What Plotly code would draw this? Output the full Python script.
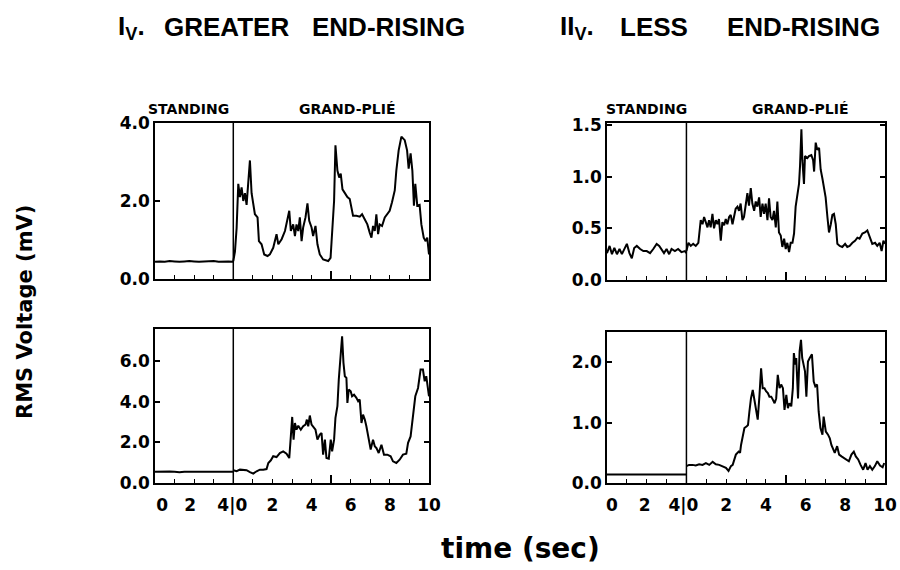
import plotly.graph_objects as go

# ---------------- data (time in s, RMS voltage in mV) ----------------
# Panel I_V top (greater end-rising, upper trace)
tl_stand_t = [0, 0.25, 0.5, 0.75, 1.0, 1.25, 1.5, 1.75, 2.0, 2.25, 2.5, 2.75, 3.0, 3.25, 3.5, 3.75, 4.0]
tl_stand_v = [0.44, 0.45, 0.44, 0.46, 0.45, 0.44, 0.45, 0.46, 0.45, 0.44, 0.45, 0.45, 0.46, 0.44, 0.45, 0.45, 0.44]
tl_grand_t = [0.0, 0.085, 0.17, 0.255, 0.34, 0.425, 0.51, 0.595, 0.68, 0.765, 0.85, 0.935, 1.02, 1.105, 1.24,
              1.31, 1.445, 1.58, 1.75, 1.87, 2.04, 2.21, 2.30, 2.47, 2.64, 2.77, 2.86, 2.94, 3.06, 3.15, 3.23,
              3.32, 3.40, 3.49, 3.57, 3.69, 3.79, 3.88, 4.0, 4.08, 4.2, 4.3, 4.42, 4.59, 4.85, 4.97, 5.05, 5.15,
              5.22, 5.32, 5.41, 5.49, 5.58, 5.70, 5.83, 5.95, 6.04, 6.12, 6.29, 6.46, 6.58, 6.72, 6.85, 6.97,
              7.06, 7.14, 7.23, 7.31, 7.40, 7.48, 7.60, 7.74, 7.87, 7.99, 8.11, 8.25, 8.33, 8.45, 8.59, 8.76,
              8.88, 8.96, 9.06, 9.15, 9.23, 9.30, 9.40, 9.52, 9.61, 9.73, 9.83, 9.91, 10.0]
tl_grand_v = [0.46, 0.7, 1.3, 2.44, 2.1, 2.35, 2.0, 2.2, 1.9, 2.44, 3.04, 2.2, 1.9, 1.66, 1.58,
              0.97, 0.89, 0.63, 0.59, 0.63, 0.8, 1.15, 0.89, 1.02, 1.23, 1.58, 1.75, 1.23, 1.4, 1.1, 1.4,
              1.23, 1.58, 0.97, 1.32, 1.58, 1.94, 1.49, 1.32, 1.1, 1.36, 0.89, 0.63, 0.5, 0.46, 0.54, 1.15, 2.0,
              3.43, 2.78, 2.6, 2.7, 2.3, 2.2, 2.1, 2.05, 1.84, 1.62, 1.62, 1.6, 1.66, 1.53, 1.4, 1.19,
              1.06, 1.36, 1.23, 1.66, 1.15, 1.4, 1.36, 1.58, 1.66, 1.75, 1.97, 2.27, 2.78, 3.3, 3.65, 3.56,
              3.3, 2.83, 3.22, 2.78, 1.88, 2.44, 1.88, 1.9, 1.4, 1.06, 0.97, 1.06, 0.63]

# Panel I_V bottom
bl_stand_t = [0, 0.25, 0.5, 0.75, 1.0, 1.25, 1.5, 1.75, 2.0, 2.25, 2.5, 2.75, 3.0, 3.25, 3.5, 3.75, 4.0]
bl_stand_v = [0.55, 0.56, 0.55, 0.57, 0.55, 0.53, 0.56, 0.57, 0.56, 0.55, 0.57, 0.56, 0.55, 0.57, 0.56, 0.55, 0.56]
bl_grand_t = [0, 0.17, 0.34, 0.51, 0.68, 0.85, 1.02, 1.19, 1.36, 1.53, 1.70, 1.79, 1.92, 2.04, 2.21, 2.38,
              2.55, 2.72, 2.86, 2.94, 3.01, 3.08, 3.15, 3.23, 3.32, 3.45, 3.57, 3.69, 3.76, 3.83, 3.91, 4.00,
              4.08, 4.20, 4.30, 4.42, 4.51, 4.59, 4.68, 4.76, 4.88, 4.98, 5.05, 5.15, 5.22, 5.32, 5.39, 5.46,
              5.56, 5.63, 5.70, 5.78, 5.83, 5.90, 6.00, 6.07, 6.17, 6.29, 6.38, 6.46, 6.55, 6.63, 6.72, 6.80,
              6.89, 7.02, 7.14, 7.23, 7.31, 7.43, 7.57, 7.70, 7.87, 8.04, 8.16, 8.33, 8.50, 8.67, 8.84, 8.93,
              9.06, 9.18, 9.30, 9.44, 9.57, 9.69, 9.78, 9.86, 9.95, 10.0]
bl_grand_v = [0.63, 0.58, 0.66, 0.63, 0.63, 0.54, 0.46, 0.58, 0.66, 0.66, 0.69, 0.99, 1.12, 1.32, 1.28, 1.48,
              1.56, 1.45, 1.23, 2.3, 3.26, 2.14, 2.96, 2.63, 2.83, 2.63, 2.80, 2.88, 3.13, 2.80, 3.33, 2.88,
              2.80, 2.63, 2.14, 2.39, 2.47, 1.40, 2.14, 1.23, 1.20, 2.14, 1.56, 2.14, 3.21, 3.79, 5.10, 5.93,
              7.24, 5.93, 5.27, 5.19, 3.95, 4.61, 4.53, 4.28, 4.36, 4.20, 4.03, 4.12, 2.96, 3.37, 3.13, 2.80,
              2.30, 1.65, 2.14, 1.81, 1.73, 1.48, 1.89, 1.40, 1.40, 1.32, 1.07, 0.99, 1.15, 1.40, 1.45, 1.98,
              2.30, 3.29, 4.28, 4.69, 5.60, 5.60, 5.02, 5.27, 4.44, 4.28]

# Panel II_V top (less end-rising)
tr_stand_t = [0, 0.13, 0.25, 0.37, 0.5, 0.63, 0.75, 0.87, 1.0, 1.13, 1.25, 1.37, 1.5, 1.67, 1.83, 2.0, 2.17,
              2.33, 2.5, 2.63, 2.75, 2.87, 3.0, 3.13, 3.25, 3.42, 3.58, 3.75, 3.92, 4.0]
tr_stand_v = [0.26, 0.33, 0.25, 0.31, 0.25, 0.30, 0.25, 0.30, 0.35, 0.26, 0.21, 0.31, 0.33, 0.30, 0.28, 0.28,
              0.26, 0.30, 0.35, 0.33, 0.30, 0.26, 0.30, 0.25, 0.30, 0.28, 0.30, 0.27, 0.28, 0.26]
tr_grand_t = [0, 0.10, 0.22, 0.34, 0.47, 0.60, 0.72, 0.81, 0.89, 0.97, 1.06, 1.14, 1.22, 1.31, 1.39, 1.48,
              1.56, 1.64, 1.73, 1.81, 1.90, 1.98, 2.06, 2.15, 2.23, 2.32, 2.40, 2.48, 2.57, 2.65, 2.73, 2.82,
              2.90, 2.99, 3.07, 3.15, 3.24, 3.32, 3.41, 3.49, 3.57, 3.66, 3.74, 3.83, 3.91, 3.99, 4.08, 4.16,
              4.24, 4.33, 4.41, 4.50, 4.58, 4.66, 4.75, 4.83, 4.92, 5.00, 5.08, 5.17, 5.25, 5.34, 5.42, 5.50,
              5.59, 5.67, 5.72, 5.79, 5.84, 5.92, 5.97, 6.09, 6.17, 6.29, 6.38, 6.43, 6.51, 6.59, 6.68, 6.76,
              6.85, 6.93, 7.01, 7.10, 7.18, 7.27, 7.35, 7.43, 7.52, 7.60, 7.72, 7.85, 7.99, 8.10, 8.22, 8.36,
              8.49, 8.61, 8.72, 8.86, 8.99, 9.11, 9.23, 9.36, 9.50, 9.61, 9.73, 9.83, 9.92, 10.0]
tr_grand_v = [0.28, 0.36, 0.33, 0.35, 0.33, 0.36, 0.58, 0.54, 0.61, 0.56, 0.51, 0.58, 0.51, 0.64, 0.50, 0.58,
              0.54, 0.59, 0.38, 0.56, 0.53, 0.59, 0.54, 0.61, 0.63, 0.54, 0.63, 0.69, 0.71, 0.67, 0.74, 0.58,
              0.61, 0.71, 0.84, 0.72, 0.89, 0.74, 0.67, 0.76, 0.71, 0.80, 0.61, 0.74, 0.64, 0.74, 0.58, 0.79,
              0.61, 0.58, 0.67, 0.51, 0.76, 0.46, 0.43, 0.32, 0.40, 0.30, 0.36, 0.27, 0.36, 0.36, 0.45, 0.71,
              0.84, 0.93, 1.10, 1.46, 1.16, 0.93, 1.20, 1.18, 1.20, 1.21, 1.16, 1.05, 1.33, 1.26, 1.28, 1.07,
              0.98, 0.89, 0.80, 0.61, 0.46, 0.54, 0.63, 0.64, 0.54, 0.35, 0.33, 0.32, 0.35, 0.32, 0.33, 0.36,
              0.38, 0.41, 0.40, 0.45, 0.46, 0.48, 0.41, 0.35, 0.36, 0.33, 0.36, 0.28, 0.38, 0.35]

# Panel II_V bottom
br_stand_t = [0, 0.5, 1.0, 1.5, 2.0, 2.5, 3.0, 3.5, 4.0]
br_stand_v = [0.14, 0.14, 0.14, 0.14, 0.14, 0.14, 0.14, 0.14, 0.14]
br_grand_t = [0, 0.13, 0.30, 0.47, 0.64, 0.81, 0.98, 1.15, 1.32, 1.48, 1.65, 1.82, 1.99, 2.12, 2.24, 2.33,
              2.41, 2.49, 2.63, 2.70, 2.75, 2.83, 2.92, 3.04, 3.10, 3.17, 3.25, 3.34, 3.42, 3.51, 3.59, 3.68,
              3.76, 3.84, 3.93, 4.01, 4.10, 4.18, 4.27, 4.35, 4.44, 4.52, 4.60, 4.69, 4.77, 4.86, 4.94, 5.03,
              5.11, 5.19, 5.28, 5.36, 5.41, 5.48, 5.53, 5.62, 5.70, 5.77, 5.83, 5.90, 5.97, 6.04, 6.12, 6.21,
              6.32, 6.41, 6.49, 6.58, 6.66, 6.75, 6.85, 6.91, 7.02, 7.13, 7.22, 7.30, 7.39, 7.47, 7.59, 7.69,
              7.81, 7.93, 8.06, 8.18, 8.31, 8.43, 8.53, 8.65, 8.77, 8.90, 9.02, 9.12, 9.24, 9.36, 9.49, 9.61,
              9.75, 9.88, 9.96]
br_grand_v = [0.28, 0.30, 0.30, 0.29, 0.31, 0.30, 0.33, 0.30, 0.35, 0.31, 0.30, 0.28, 0.25, 0.20, 0.28, 0.30,
              0.39, 0.47, 0.52, 0.50, 0.63, 0.74, 0.91, 0.94, 0.96, 1.18, 1.40, 1.54, 1.40, 1.18, 1.05, 1.46,
              1.90, 1.57, 1.57, 1.52, 1.49, 1.43, 1.43, 1.38, 1.32, 1.40, 1.79, 1.57, 1.63, 1.57, 1.21, 1.46,
              1.24, 1.32, 1.27, 1.57, 2.15, 1.96, 2.07, 1.40, 2.18, 2.37, 2.07, 1.96, 1.85, 1.43, 2.01, 2.07,
              2.13, 1.68, 1.60, 1.63, 1.18, 0.91, 0.80, 1.10, 0.85, 0.80, 0.74, 0.63, 0.55, 0.50, 0.61, 0.47,
              0.44, 0.41, 0.39, 0.36, 0.47, 0.52, 0.44, 0.39, 0.30, 0.22, 0.33, 0.22, 0.28, 0.22, 0.28, 0.36,
              0.29, 0.26, 0.33]

# axis settings / labels
STAND_LEN = 4  # standing section occupies 0..4 s, grand-plié shown after it
tl_yticks = [0, 2, 4]
bl_yticks = [0, 2, 4, 6]
tr_yticks = [0, 0.5, 1.0, 1.5]
br_yticks = [0, 1, 2]
xlabel_text = ["0", "2", "4|0", "2", "4", "6", "8", "10"]
left_xlabel_pos = [0.36, 1.8, 3.95, 6, 8, 10, 12, 14]
right_xlabel_pos = [0.25, 1.9, 3.85, 6, 8, 10, 12, 14]

# ---------------- figure ----------------
W, H = 900, 570
FONT = "DejaVu Sans"


def px_x(a):
    return a / W


def px_y(a):
    return 1 - a / H


def dom_x(a, b):
    return [px_x(a), px_x(b)]


def dom_y(top, bottom):
    return [px_y(bottom), px_y(top)]


panels = [
    ("x", "y", dom_x(155, 429), dom_y(123, 279), [0, 4.0], tl_yticks,
     (tl_stand_t, tl_stand_v), (tl_grand_t, tl_grand_v)),
    ("x2", "y2", dom_x(607, 885), dom_y(123, 280), [0, 1.52], tr_yticks,
     (tr_stand_t, tr_stand_v), (tr_grand_t, tr_grand_v)),
    ("x3", "y3", dom_x(155, 429), dom_y(329, 483), [0, 7.6], bl_yticks,
     (bl_stand_t, bl_stand_v), (bl_grand_t, bl_grand_v)),
    ("x4", "y4", dom_x(607, 885), dom_y(332, 483), [0, 2.5], br_yticks,
     (br_stand_t, br_stand_v), (br_grand_t, br_grand_v)),
]

fig = go.Figure()
line = dict(color="black", width=2)

for xa, ya, xd, yd, yr, yt, stand, grand in panels:
    fig.add_trace(go.Scatter(x=stand[0], y=stand[1], mode="lines", line=line,
                             xaxis=xa, yaxis=ya, showlegend=False, hoverinfo="skip"))
    fig.add_trace(go.Scatter(x=[t + STAND_LEN for t in grand[0]], y=grand[1], mode="lines", line=line,
                             xaxis=xa, yaxis=ya, showlegend=False, hoverinfo="skip"))
    fig.layout["xaxis" + xa[1:]] = dict(
        domain=xd, anchor=ya, range=[0, 14], showgrid=False, zeroline=False, automargin=False,
        showline=True, linecolor="black", linewidth=1.5, mirror=True,
        tickmode="array", tickvals=[9], ticks="inside", ticklen=8, tickwidth=1.5,
        tickcolor="black", showticklabels=False,
        minor=dict(ticks="inside", ticklen=4, tickwidth=1, tickcolor="black",
                   tickmode="linear", tick0=0, dtick=1, showgrid=False),
    )
    fig.layout["yaxis" + ya[1:]] = dict(
        domain=yd, anchor=xa, range=yr, showgrid=False, zeroline=False, automargin=False,
        showline=True, linecolor="black", linewidth=1.5, mirror="ticks",
        tickmode="array", tickvals=yt, tickformat=".1f", ticks="inside", ticklen=5,
        tickwidth=1.5, tickcolor="black",
        tickfont=dict(family=FONT, size=17, color="black", weight="bold"),
    )
    fig.add_shape(type="line", xref=xa, yref=ya + " domain", x0=STAND_LEN, x1=STAND_LEN, y0=0, y1=1,
                  line=dict(color="black", width=1.5))

# overlay axes carrying the time tick labels of the bottom row
for xa, over, ya, xd, pos in [("x5", "x3", "y3", dom_x(155, 429), left_xlabel_pos),
                              ("x6", "x4", "y4", dom_x(607, 885), right_xlabel_pos)]:
    fig.add_trace(go.Scatter(x=[None], y=[None], xaxis=xa, yaxis=ya, showlegend=False, hoverinfo="skip"))
    fig.layout["xaxis" + xa[1:]] = dict(
        domain=xd, anchor=ya, overlaying=over, range=[0, 14], showgrid=False, zeroline=False,
        automargin=False, showline=False, ticks="", tickmode="array", tickvals=pos,
        ticktext=xlabel_text, ticklabelstandoff=10, ticklabeloverflow="allow",
        tickfont=dict(family=FONT, size=17, color="black", weight="bold"),
    )

ann = []
title_font = dict(family="Liberation Sans", size=26, color="black", weight="bold")
title_words = [("I<sub>V</sub>.", 131), ("GREATER", 226), ("END-RISING", 388),
               ("II<sub>V</sub>.", 577), ("LESS", 654), ("END-RISING", 803)]
for word, cx in title_words:
    ann.append(dict(text=word, x=px_x(cx), y=px_y(27), xref="paper", yref="paper",
                    xanchor="center", yanchor="middle", showarrow=False, font=title_font))
sec_font = dict(family=FONT, size=14, color="black", weight="bold")
for xa, sx, gx in [("x", 1.7, 9.8), ("x2", 2.0, 9.7)]:
    ann.append(dict(text="STANDING", x=sx, y=px_y(109), xref=xa, yref="paper", showarrow=False,
                    xanchor="center", yanchor="middle", font=sec_font))
    ann.append(dict(text="GRAND-PLIÉ", x=gx, y=px_y(109), xref=xa, yref="paper", showarrow=False,
                    xanchor="center", yanchor="middle", font=sec_font))
ann.append(dict(text="RMS Voltage (mV)", x=px_x(25), y=px_y(312), xref="paper", yref="paper",
                textangle=-90, showarrow=False, xanchor="center", yanchor="middle",
                font=dict(family=FONT, size=21, color="black", weight="bold")))
ann.append(dict(text="time (sec)", x=px_x(520), y=px_y(548), xref="paper", yref="paper",
                showarrow=False, xanchor="center", yanchor="middle",
                font=dict(family=FONT, size=28, color="black", weight="bold")))

fig.update_layout(
    width=W, height=H, margin=dict(l=0, r=0, t=0, b=0, autoexpand=False),
    paper_bgcolor="white", plot_bgcolor="white",
    annotations=ann, showlegend=False,
)

# remove the default page margin so the 900x570 figure fills the window exactly
fig.write_html("out.html", config={"displayModeBar": False},
               post_script="document.body.style.margin='0';document.body.style.overflow='hidden';")
